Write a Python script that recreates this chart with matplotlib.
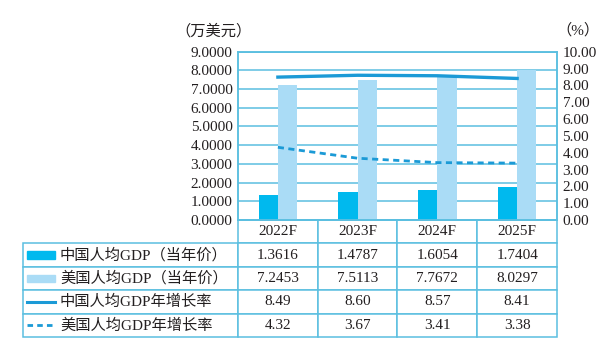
import matplotlib
matplotlib.use('Agg')
import matplotlib.pyplot as plt
import numpy as np
from matplotlib.patches import Rectangle
from matplotlib.lines import Line2D

years = ['2022F', '2023F', '2024F', '2025F']
cn_gdp = [1.3616, 1.4787, 1.6054, 1.7404]
us_gdp = [7.2453, 7.5113, 7.7672, 8.0297]
cn_rate = [8.49, 8.60, 8.57, 8.41]
us_rate = [4.32, 3.67, 3.41, 3.38]
row_names = ['中国人均GDP（当年价）', '美国人均GDP（当年价）', '中国人均GDP年增长率', '美国人均GDP年增长率']

c_cn = '#00b9ee'
c_us = '#aadcf6'
c_line = '#1b9ad6'
c_grid = '#5bbfe0'
c_text = '#231f20'
fam = ['Liberation Serif', 'Noto Sans CJK SC']
fs = 11

fig = plt.figure(figsize=(6, 3.45), dpi=100)
ax = fig.add_axes([238/600, 1 - 220/345, 319/600, 168.3/345])
ax2 = ax.twinx()

x = np.arange(len(years))
w = 0.24
ax.bar(x - w/2, cn_gdp, w, color=c_cn, zorder=2)
ax.bar(x + w/2, us_gdp, w, color=c_us, zorder=2)
ax.set_xlim(-0.5, len(years) - 0.5)
ax.set_ylim(0, 9)
ax.set_yticks(np.arange(0, 9.1, 1))
ax.set_yticklabels(['%.4f' % v for v in np.arange(0, 9.1, 1)])
ax.yaxis.grid(True, color=c_grid, lw=1.1, zorder=0)
ax.set_axisbelow(True)
ax.set_xticks([])

ax2.plot(x, cn_rate, color=c_line, lw=2.4, zorder=3)
ax2.plot(x, us_rate, color=c_line, lw=2.0, ls=(0, (2.2, 1.6)), zorder=3)
ax2.set_ylim(0, 10)
ax2.set_yticks(np.arange(0, 10.1, 1))
ax2.set_yticklabels(['%.2f' % v for v in np.arange(0, 10.1, 1)])

for a in (ax, ax2):
    a.tick_params(length=0, pad=4, labelsize=fs, labelcolor=c_text)
    for lab in a.get_yticklabels():
        lab.set_family(fam)
    for s in a.spines.values():
        s.set_color(c_grid)
        s.set_linewidth(1.1)

fig.text(214/600, 1 - 31/345, '（万美元）', family=fam, fontsize=fs, color=c_text, ha='center', va='center')
fig.text(578/600, 1 - 30/345, '（%）', family=fam, fontsize=fs, color=c_text, ha='center', va='center')

# table under the plot
cell_text = [['' ] + ['%.4f' % v for v in cn_gdp],
             [''] + ['%.4f' % v for v in us_gdp],
             [''] + ['%.2f' % v for v in cn_rate],
             [''] + ['%.2f' % v for v in us_rate]]
px = 319.0
py = 168.3
left = (22.7 - 238) / px
lab_w = (238 - 22.7) / px
col_w = 1.0 / len(years)
tb_h = (337 - 220) / py
tbl = ax.table(cellText=cell_text, colLabels=[''] + years,
               colWidths=[lab_w] + [col_w] * len(years),
               cellLoc='center', bbox=[left, -tb_h, lab_w + 1.0, tb_h])
tbl.auto_set_font_size(False)
for (r, c), cell in tbl.get_celld().items():
    cell.set_edgecolor(c_grid)
    cell.set_linewidth(1.1)
    cell.get_text().set_fontsize(fs)
    cell.get_text().set_family(fam)
    cell.get_text().set_color(c_text)
    if r == 0 and c == 0:
        cell.visible_edges = 'open'

row_h = tb_h / 5
for i, name in enumerate(row_names):
    yc = -row_h * (1.5 + i)
    x0 = (27 - 238) / px
    x1 = (55 - 238) / px
    if i < 2:
        ax.add_patch(Rectangle((x0, yc - 0.022), x1 - x0, 0.044,
                               color=[c_cn, c_us][i], transform=ax.transAxes, clip_on=False))
    else:
        ax.add_line(Line2D([x0, x1], [yc, yc], color=c_line, lw=2.2 if i == 2 else 2.0,
                           ls='-' if i == 2 else (0, (2.0, 1.5)),
                           transform=ax.transAxes, clip_on=False))
    ax.text((60 - 238) / px, yc, name, transform=ax.transAxes, family=fam,
            fontsize=fs, color=c_text, ha='left', va='center')

fig.savefig('out.png', dpi=100)
